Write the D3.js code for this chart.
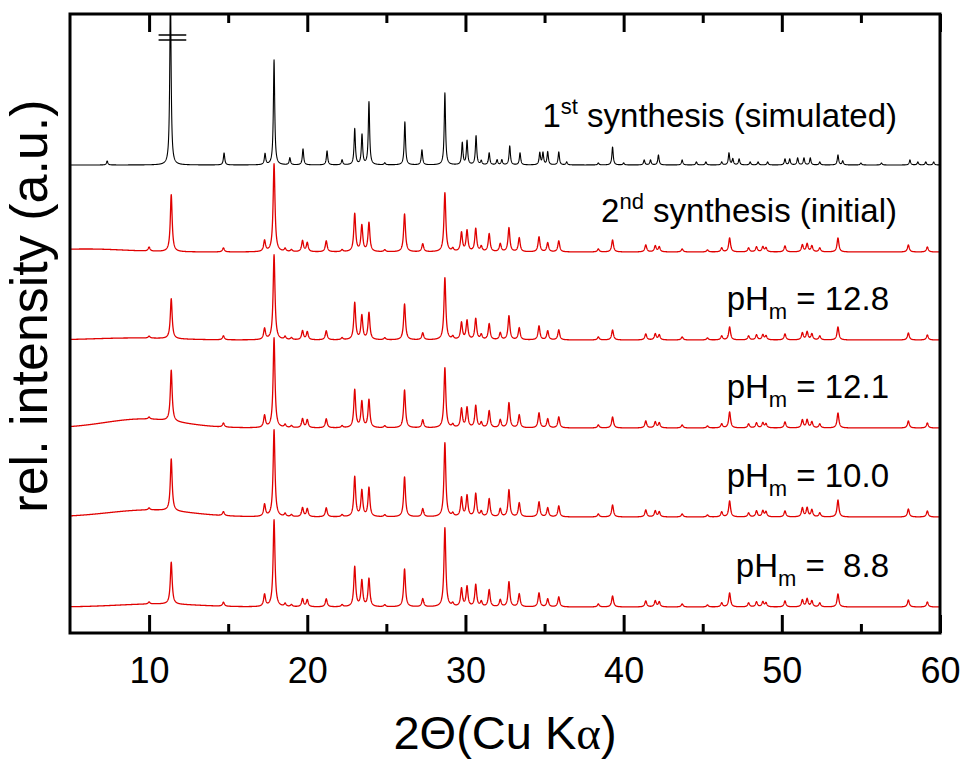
<!DOCTYPE html>
<html>
<head>
<meta charset="utf-8">
<script src="https://cdn.jsdelivr.net/npm/d3@7/dist/d3.min.js"></script>
<style>
  html, body { margin: 0; padding: 0; background: #fff; }
  svg text { font-family: "Liberation Sans", Arial, sans-serif; fill: #000; }
</style>
</head>
<body>
<svg id="chart" width="963" height="760"></svg>
<script>
// ---- data -------------------------------------------------------------
const xTicks = [10, 20, 30, 40, 50, 60];
const xMinorTicks = [15, 25, 35, 45, 55];

// simulated pattern of the 1st synthesis (peak position in deg 2θ, height)
const simPos = [7.35, 11.35, 14.74, 17.33, 17.9, 18.9, 19.73, 21.25, 22.2, 23.0, 23.46, 23.9, 24.9, 26.17, 27.25, 28.7, 29.8, 30.1, 30.67, 31.0, 31.5, 32.0, 32.3, 32.8, 33.45, 34.7, 34.9, 35.2, 35.9, 36.4, 38.4, 39.3, 40.0, 41.3, 41.7, 42.2, 43.7, 44.6, 45.2, 46.2, 46.66, 46.9, 47.3, 48.0, 48.5, 49.1, 50.2, 50.5, 51.0, 51.4, 51.8, 52.4, 53.55, 53.85, 55.0, 56.3, 58.1, 58.6, 59.1, 59.6];
const simInt = [4, 175, 12, 11, 105, 7, 16, 14, 5, 36, 30, 63, 2, 43, 15, 72, 22, 24, 29, 4, 12, 5, 5, 19, 12, 12, 12, 13, 13, 3, 2, 18, 2, 5, 5, 10, 5, 3, 3, 3, 12, 6, 6, 3, 3, 3, 6, 6, 7, 7, 7, 3, 10, 4, 2, 2, 5, 3, 3, 3];

// measured patterns share the reflection positions
const measPos = [10.0, 11.4, 14.7, 17.3, 17.9, 18.6, 19.0, 19.7, 20.0, 21.2, 22.2, 23.0, 23.45, 23.9, 24.9, 26.15, 27.3, 28.7, 29.2, 29.75, 30.1, 30.65, 31.0, 31.5, 32.2, 32.75, 33.4, 34.65, 35.2, 35.9, 38.4, 39.3, 41.4, 42.0, 42.25, 43.7, 45.3, 46.2, 46.7, 47.9, 48.4, 48.8, 49.0, 50.2, 51.3, 51.6, 51.9, 52.4, 53.55, 58.0, 59.2];
const int2nd  = [4, 57, 4, 11, 88, 3, 2, 11, 9, 11, 2, 38, 26, 29, 2, 38, 8, 59, 3, 19, 21, 23, 5, 18, 8, 24, 14, 15, 9, 11, 3, 12, 7, 6, 5, 3, 2, 4, 14, 4, 5, 5, 4, 6, 7, 8, 6, 4, 14, 7, 5];
const int128  = [2, 40, 4, 11, 85, 3, 2, 9, 8, 9, 2, 37, 24, 27, 2, 36, 7, 62, 3, 17, 19, 21, 5, 16, 7, 24, 12, 14, 9, 10, 3, 10, 6, 6, 5, 3, 2, 4, 13, 4, 5, 5, 4, 6, 7, 8, 6, 4, 13, 7, 5];
const int121  = [2, 51, 4, 12, 90, 3, 2, 9, 8, 9, 2, 38, 26, 28, 2, 38, 8, 60, 3, 19, 20, 22, 5, 17, 8, 25, 13, 15, 9, 11, 3, 11, 7, 6, 5, 3, 2, 4, 16, 4, 5, 5, 4, 6, 8, 8, 6, 4, 15, 7, 5];
const int100  = [2, 52, 4, 12, 87, 3, 2, 9, 8, 9, 2, 40, 26, 29, 2, 40, 8, 74, 3, 19, 21, 23, 5, 18, 8, 27, 14, 15, 9, 11, 3, 12, 7, 6, 5, 3, 2, 5, 16, 4, 6, 6, 5, 6, 9, 9, 7, 4, 17, 8, 6];
const int88   = [2, 42, 4, 12, 87, 3, 2, 8, 7, 8, 2, 40, 26, 28, 2, 38, 8, 79, 3, 18, 20, 22, 5, 17, 7, 25, 13, 14, 8, 10, 3, 11, 6, 6, 5, 3, 2, 4, 14, 4, 5, 5, 4, 6, 7, 8, 6, 4, 13, 7, 5];

// broad amorphous contribution: centre (deg), height, spread (deg)
const humps = {
  sim:  [0, 0, 1],
  s2nd: [6.0, 3, 2.5],
  p128: [9.0, 2, 2.5],
  p121: [9.6, 9, 2.4],
  p100: [10.0, 7, 2.6],
  p88:  [10.5, 3, 2.5]
};

// vertical offsets of the stacked patterns
const offsets = { sim: 468, s2nd: 381, p128: 293, p121: 205, p100: 116, p88: 26 };

const series = [
  { key: "sim",  pos: simPos,  inten: simInt, hw: 0.05, color: "#000000" },
  { key: "s2nd", pos: measPos, inten: int2nd, hw: 0.07, color: "#e00000" },
  { key: "p128", pos: measPos, inten: int128, hw: 0.07, color: "#e00000" },
  { key: "p121", pos: measPos, inten: int121, hw: 0.07, color: "#e00000" },
  { key: "p100", pos: measPos, inten: int100, hw: 0.07, color: "#e00000" },
  { key: "p88",  pos: measPos, inten: int88,  hw: 0.07, color: "#e00000" }
];

const labels = [
  { key: "sim",  main: "1", sup: "st", rest: " synthesis (simulated)", sub: null, dy: 38, xEnd: 897 },
  { key: "s2nd", main: "2", sup: "nd", rest: " synthesis (initial)", sub: null, dy: 30, xEnd: 897 },
  { key: "p128", main: "pH", sub: "m", rest: " = 12.8", dy: 30, xEnd: 889 },
  { key: "p121", main: "pH", sub: "m", rest: " = 12.1", dy: 30, xEnd: 889 },
  { key: "p100", main: "pH", sub: "m", rest: " = 10.0", dy: 30, xEnd: 889 },
  { key: "p88",  main: "pH", sub: "m", rest: " =\u00a0 8.8", dy: 30, xEnd: 889 }
];

// ---- layout -----------------------------------------------------------
const svg = d3.select("#chart");
const mLeft = 70, mRight = 940, mTop = 14, mBottom = 633;

const x = d3.scaleLinear().domain([5, 60]).range([mLeft, mRight]);
const y = d3.scaleLinear().domain([0, 619]).range([mBottom, mTop]);

svg.append("clipPath").attr("id", "plotClip")
  .append("rect").attr("x", mLeft).attr("y", mTop)
  .attr("width", mRight - mLeft).attr("height", mBottom - mTop);

// profile of a pattern: Lorentzian reflections on an optional broad hump
function profile(s) {
  const h = humps[s.key];
  const pts = [];
  for (let i = 0; i <= 5500; i++) {
    const t = 5 + i * 0.01;
    let v = h[1] * Math.exp(-0.5 * ((t - h[0]) / h[2]) ** 2);
    for (let k = 0; k < s.pos.length; k++) {
      const u = (t - s.pos[k]) / s.hw;
      v += s.inten[k] / (1 + u * u);
    }
    pts.push([t, v + offsets[s.key]]);
  }
  return pts;
}

const line = d3.line().x(d => x(d[0])).y(d => y(d[1]));

const g = svg.append("g").attr("clip-path", "url(#plotClip)");
series.forEach(s => {
  g.append("path")
    .attr("d", line(profile(s)))
    .attr("fill", "none")
    .attr("stroke", s.color)
    .attr("stroke-width", s.key === "sim" ? 1.1 : 1.3)
    .attr("stroke-linejoin", "round");
});

// axis-break marks on the clipped main reflection
[598, 593].forEach(v => {
  svg.append("line")
    .attr("x1", x(10.6)).attr("x2", x(12.35))
    .attr("y1", y(v)).attr("y2", y(v))
    .attr("stroke", "#000").attr("stroke-width", 1.5);
});

// ---- axes -------------------------------------------------------------
const bottomAxis = d3.axisBottom(x).tickValues(xTicks).tickSize(-18).tickPadding(24).tickFormat(d3.format("d"));
const topAxis = d3.axisTop(x).tickValues(xTicks).tickSize(-18).tickFormat("");
const bottomMinor = d3.axisBottom(x).tickValues(xMinorTicks).tickSize(-9).tickFormat("");
const topMinor = d3.axisTop(x).tickValues(xMinorTicks).tickSize(-9).tickFormat("");

function styleAxis(sel) {
  sel.select(".domain").remove();
  sel.selectAll(".tick line").attr("stroke", "#000").attr("stroke-width", 3);
  sel.selectAll(".tick text").attr("font-size", 36).attr("fill", "#000")
    .attr("font-family", "Liberation Sans, Arial, sans-serif");
}

svg.append("g").attr("transform", `translate(0,${mBottom})`).call(bottomAxis).call(styleAxis);
svg.append("g").attr("transform", `translate(0,${mTop})`).call(topAxis).call(styleAxis);
svg.append("g").attr("transform", `translate(0,${mBottom})`).call(bottomMinor).call(styleAxis);
svg.append("g").attr("transform", `translate(0,${mTop})`).call(topMinor).call(styleAxis);

svg.append("rect")
  .attr("x", mLeft).attr("y", mTop)
  .attr("width", mRight - mLeft).attr("height", mBottom - mTop)
  .attr("fill", "none").attr("stroke", "#000").attr("stroke-width", 3);

// ---- pattern labels ---------------------------------------------------
labels.forEach(l => {
  const t = svg.append("text")
    .attr("x", l.xEnd)
    .attr("y", y(offsets[l.key]) - l.dy)
    .attr("text-anchor", "end")
    .attr("font-size", 33);
  t.append("tspan").text(l.main);
  if (l.sup) {
    t.append("tspan").attr("font-size", 22).attr("dy", -13).text(l.sup);
    t.append("tspan").attr("dy", 13).text(l.rest);
  } else {
    t.append("tspan").attr("font-size", 22).attr("dy", 9).text(l.sub);
    t.append("tspan").attr("dy", -9).text(l.rest);
  }
});

// ---- axis titles ------------------------------------------------------
const xt = svg.append("text")
  .attr("x", 505).attr("y", 749)
  .attr("text-anchor", "middle")
  .attr("font-size", 47);
xt.append("tspan").text("2\u0398(Cu K");
xt.append("tspan").attr("font-family", "Liberation Serif, Times New Roman, serif").text("\u03b1");
xt.append("tspan").text(")");

svg.append("text")
  .attr("transform", `translate(47,306) rotate(-90)`)
  .attr("text-anchor", "middle")
  .attr("font-size", 52)
  .text("rel. intensity (a.u.)");
</script>
</body>
</html>
